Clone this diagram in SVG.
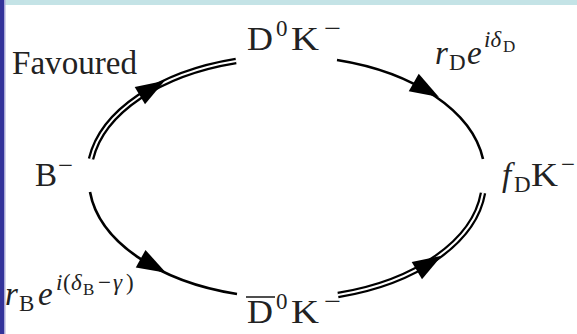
<svg xmlns="http://www.w3.org/2000/svg" width="577" height="334" viewBox="0 0 577 334">
<style>
.t{font-family:"Liberation Serif","Times New Roman",serif;fill:#222;font-size:33px}
.it{font-style:italic}
.s{font-size:23px}
.ss{font-size:17px}
.dbl-o{fill:none;stroke:#000;stroke-width:6.5}
.dbl-i{fill:none;stroke:#fff;stroke-width:2}
.sgl{fill:none;stroke:#000;stroke-width:2.6}
</style>
<defs>
<polygon id="ah" points="16,0 -13,-10 -13,10" fill="#000"/>
</defs>
<rect x="0" y="0" width="577" height="334" fill="#fff"/>
<rect x="0" y="0" width="577" height="5" fill="#c4e3e6"/>
<rect x="0" y="0" width="4" height="334" fill="#33339a"/>
<rect x="4" y="0" width="1.5" height="334" fill="#a8a8d6"/>
<g id="connectors">
<path class="dbl-o" d="M 91 159 A 199 119 0 0 1 236 61"/>
<path class="dbl-i" d="M 91 159 A 199 119 0 0 1 236 61"/>
<path class="sgl" d="M 337 60 A 199 119 0 0 1 483 159"/>
<path class="sgl" d="M 90 192 A 199 119 0 0 0 237 294"/>
<path class="dbl-o" d="M 338 295 A 199 119 0 0 0 483 193"/>
<path class="dbl-i" d="M 338 295 A 199 119 0 0 0 483 193"/>
<use href="#ah" transform="translate(151,89) rotate(-31)"/>
<use href="#ah" transform="translate(425,89) rotate(30)"/>
<use href="#ah" transform="translate(152,265) rotate(29)"/>
<use href="#ah" transform="translate(428,264) rotate(-31)"/>
</g>
<g id="favoured"><text class="t" x="12" y="74" textLength="125" lengthAdjust="spacingAndGlyphs">Favoured</text></g>
<g id="B"><text class="t" x="35" y="186">B</text><text class="t s" x="58" y="173" textLength="15" lengthAdjust="spacingAndGlyphs">−</text></g>
<g id="D0K">
<text class="t" x="247" y="50" textLength="26" lengthAdjust="spacingAndGlyphs">D</text>
<text class="t s" x="276" y="36">0</text>
<text class="t" x="291" y="50" textLength="28" lengthAdjust="spacingAndGlyphs">K</text>
<text class="t s" x="324" y="36" textLength="17" lengthAdjust="spacingAndGlyphs">−</text>
</g>
<g id="D0barK">
<line x1="246" y1="297" x2="275" y2="297" stroke="#222" stroke-width="1.6"/>
<text class="t" x="247" y="323" textLength="26" lengthAdjust="spacingAndGlyphs">D</text>
<text class="t s" x="276" y="309">0</text>
<text class="t" x="291" y="323" textLength="28" lengthAdjust="spacingAndGlyphs">K</text>
<text class="t s" x="324" y="309" textLength="17" lengthAdjust="spacingAndGlyphs">−</text>
</g>
<g id="fDK">
<text class="t it" x="502" y="186">f</text>
<text class="t s" x="514" y="192">D</text>
<text class="t" x="531" y="186" textLength="27" lengthAdjust="spacingAndGlyphs">K</text>
<text class="t s" x="561" y="172" textLength="14" lengthAdjust="spacingAndGlyphs">−</text>
</g>
<g id="rD"><text class="t" x="435" y="64"><tspan class="it">r</tspan><tspan class="s" x="449" y="70">D</tspan><tspan class="it" x="467" y="64">e</tspan><tspan class="s it" x="484" y="47">iδ</tspan><tspan class="ss" x="503" y="52">D</tspan></text></g>
<g id="rB"><text class="t" x="5" y="305"><tspan class="it">r</tspan><tspan class="s" x="19" y="311">B</tspan><tspan class="it" x="38" y="305">e</tspan><tspan class="s" x="56" y="290"><tspan class="it">i</tspan></tspan><tspan class="s" x="63" y="290">(</tspan><tspan class="s it" x="71" y="290">δ</tspan><tspan class="ss" x="83" y="295">B</tspan><tspan class="s" x="98" y="290">−</tspan><tspan class="s it" x="113" y="290">γ</tspan><tspan class="s" x="126" y="290">)</tspan></text></g>
</svg>
